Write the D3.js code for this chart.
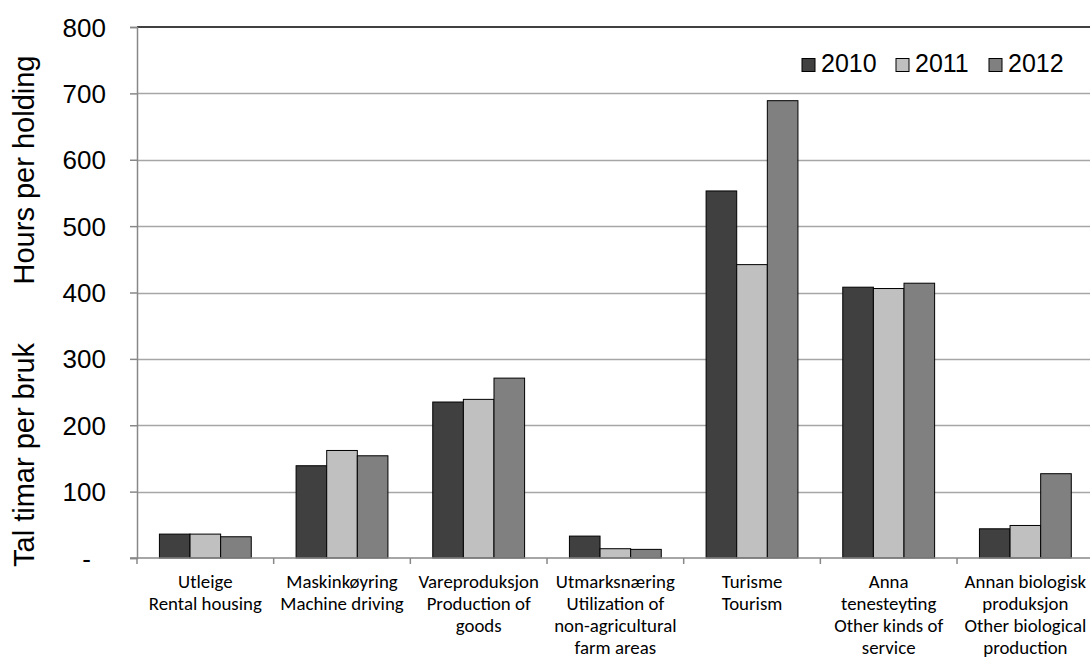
<!DOCTYPE html>
<html>
<head>
<meta charset="utf-8">
<script src="https://cdn.jsdelivr.net/npm/d3@7"></script>
<style>
  html, body { margin: 0; padding: 0; background: #fff; }
  svg { display: block; }
</style>
</head>
<body>
<svg id="chart" width="1090" height="659"></svg>
<script>
// ---- data ----
const categories = [
  ["Utleige", "Rental housing"],
  ["Maskinkøyring", "Machine driving"],
  ["Vareproduksjon", "Production of", "goods"],
  ["Utmarksnæring", "Utilization of", "non-agricultural", "farm areas"],
  ["Turisme", "Tourism"],
  ["Anna", "tenesteyting", "Other kinds of", "service"],
  ["Annan biologisk", "produksjon", "Other biological", "production"]
];
const years = ["2010", "2011", "2012"];
const values2010 = [36, 139, 235, 33, 553, 408, 44];
const values2011 = [36, 162, 239, 14, 442, 406, 49];
const values2012 = [32, 154, 271, 13, 689, 414, 127];
const yTicks = [0, 100, 200, 300, 400, 500, 600, 700, 800];
const colors = ["#404040", "#c0c0c0", "#808080"];

const series = [values2010, values2011, values2012];

// ---- layout ----
const svg = d3.select("#chart");
const pLeft = 137, pRight = 1093.7, pTop = 27, pBottom = 558;

const catIds = categories.map((c, i) => i);
const x0 = d3.scaleBand().domain(catIds).range([pLeft, pRight]).padding(0);
const bw = x0.bandwidth();
const x1 = d3.scaleBand().domain(years).range([bw * 0.164, bw * 0.836]).padding(0);
const y = d3.scaleLinear().domain([0, 800]).range([pBottom, pTop]);

// gridlines
svg.append("g").selectAll("line").data(yTicks.filter(t => t > 0 && t < 800)).join("line")
  .attr("x1", pLeft).attr("x2", pRight)
  .attr("y1", d => Math.round(y(d)) + 0.5).attr("y2", d => Math.round(y(d)) + 0.5)
  .attr("stroke", "#a6a6a6").attr("stroke-width", 1.5);

// top border
svg.append("line").attr("x1", pLeft).attr("x2", pRight)
  .attr("y1", y(800)).attr("y2", y(800))
  .attr("stroke", "#000").attr("stroke-width", 1.5);

// bars
const g = svg.append("g");
categories.forEach((c, i) => {
  years.forEach((yr, j) => {
    const v = series[j][i];
    g.append("rect")
      .attr("x", x0(i) + x1(yr))
      .attr("y", y(v))
      .attr("width", x1.bandwidth())
      .attr("height", y(0) - y(v))
      .attr("fill", colors[j])
      .attr("stroke", "#000")
      .attr("stroke-width", 1);
  });
});

// y axis
const yAxis = d3.axisLeft(y).tickValues(yTicks).tickSize(7).tickPadding(24)
  .tickFormat(d => d === 0 ? "-" : d3.format("d")(d));
const ya = svg.append("g").attr("transform", `translate(${pLeft},0)`).call(yAxis);
ya.select(".domain").attr("stroke", "#888").attr("stroke-width", 1.5);
ya.selectAll(".tick line").attr("stroke", "#888").attr("stroke-width", 1.5);
ya.selectAll(".tick text")
  .attr("font-family", "'Liberation Sans', Arial, sans-serif")
  .attr("font-size", 26).attr("fill", "#000")
  .attr("dy", "0.35em");
ya.selectAll(".tick").filter(d => d === 0).select("text").attr("x", -46);

// x axis
const xa = svg.append("g").attr("transform", `translate(0,${pBottom})`);
xa.append("line").attr("x1", pLeft - 7).attr("x2", pRight).attr("y1", 0).attr("y2", 0)
  .attr("stroke", "#888").attr("stroke-width", 1.5);
const tickXs = catIds.map(i => x0(i)).concat([pRight]);
xa.selectAll("line.t").data(tickXs).join("line").attr("class", "t")
  .attr("x1", d => d).attr("x2", d => d).attr("y1", 0).attr("y2", 6)
  .attr("stroke", "#888").attr("stroke-width", 1.5);

// category labels (font sized to fit measured width)
const labelFont = "Carlito, Calibri, 'Liberation Sans Narrow', 'Arial Narrow', sans-serif";
const probe = svg.append("text").attr("font-family", labelFont).attr("font-size", 16).text("Rental housing");
const w = probe.node().getComputedTextLength();
probe.remove();
const labelSize = 16 * 113 / w;
const lab = svg.append("g");
categories.forEach((lines, i) => {
  const t = lab.append("text")
    .attr("x", x0(i) + bw / 2).attr("y", 588)
    .attr("text-anchor", "middle")
    .attr("font-family", labelFont).attr("font-size", labelSize).attr("fill", "#000");
  lines.forEach((ln, k) => {
    t.append("tspan").attr("x", x0(i) + bw / 2).attr("y", 588 + k * 22).text(ln);
  });
});

// y title
const titleFont = "'Liberation Sans', Arial, sans-serif";
svg.append("text").attr("transform", "rotate(-90)")
  .attr("x", -455).attr("y", 34).attr("text-anchor", "middle")
  .attr("font-family", titleFont).attr("font-size", 29).text("Tal timar per bruk");
svg.append("text").attr("transform", "rotate(-90)")
  .attr("x", -170).attr("y", 34).attr("text-anchor", "middle")
  .attr("font-family", titleFont).attr("font-size", 29).text("Hours per holding");

// legend
const legX = [802, 896, 989];
const leg = svg.append("g");
years.forEach((yr, j) => {
  leg.append("rect").attr("x", legX[j]).attr("y", 58.5).attr("width", 13).attr("height", 13)
    .attr("fill", colors[j]).attr("stroke", "#000").attr("stroke-width", 1);
  leg.append("text").attr("x", legX[j] + 19).attr("y", 72)
    .attr("font-family", titleFont).attr("font-size", 25).attr("fill", "#000").text(yr);
});
</script>
</body>
</html>
